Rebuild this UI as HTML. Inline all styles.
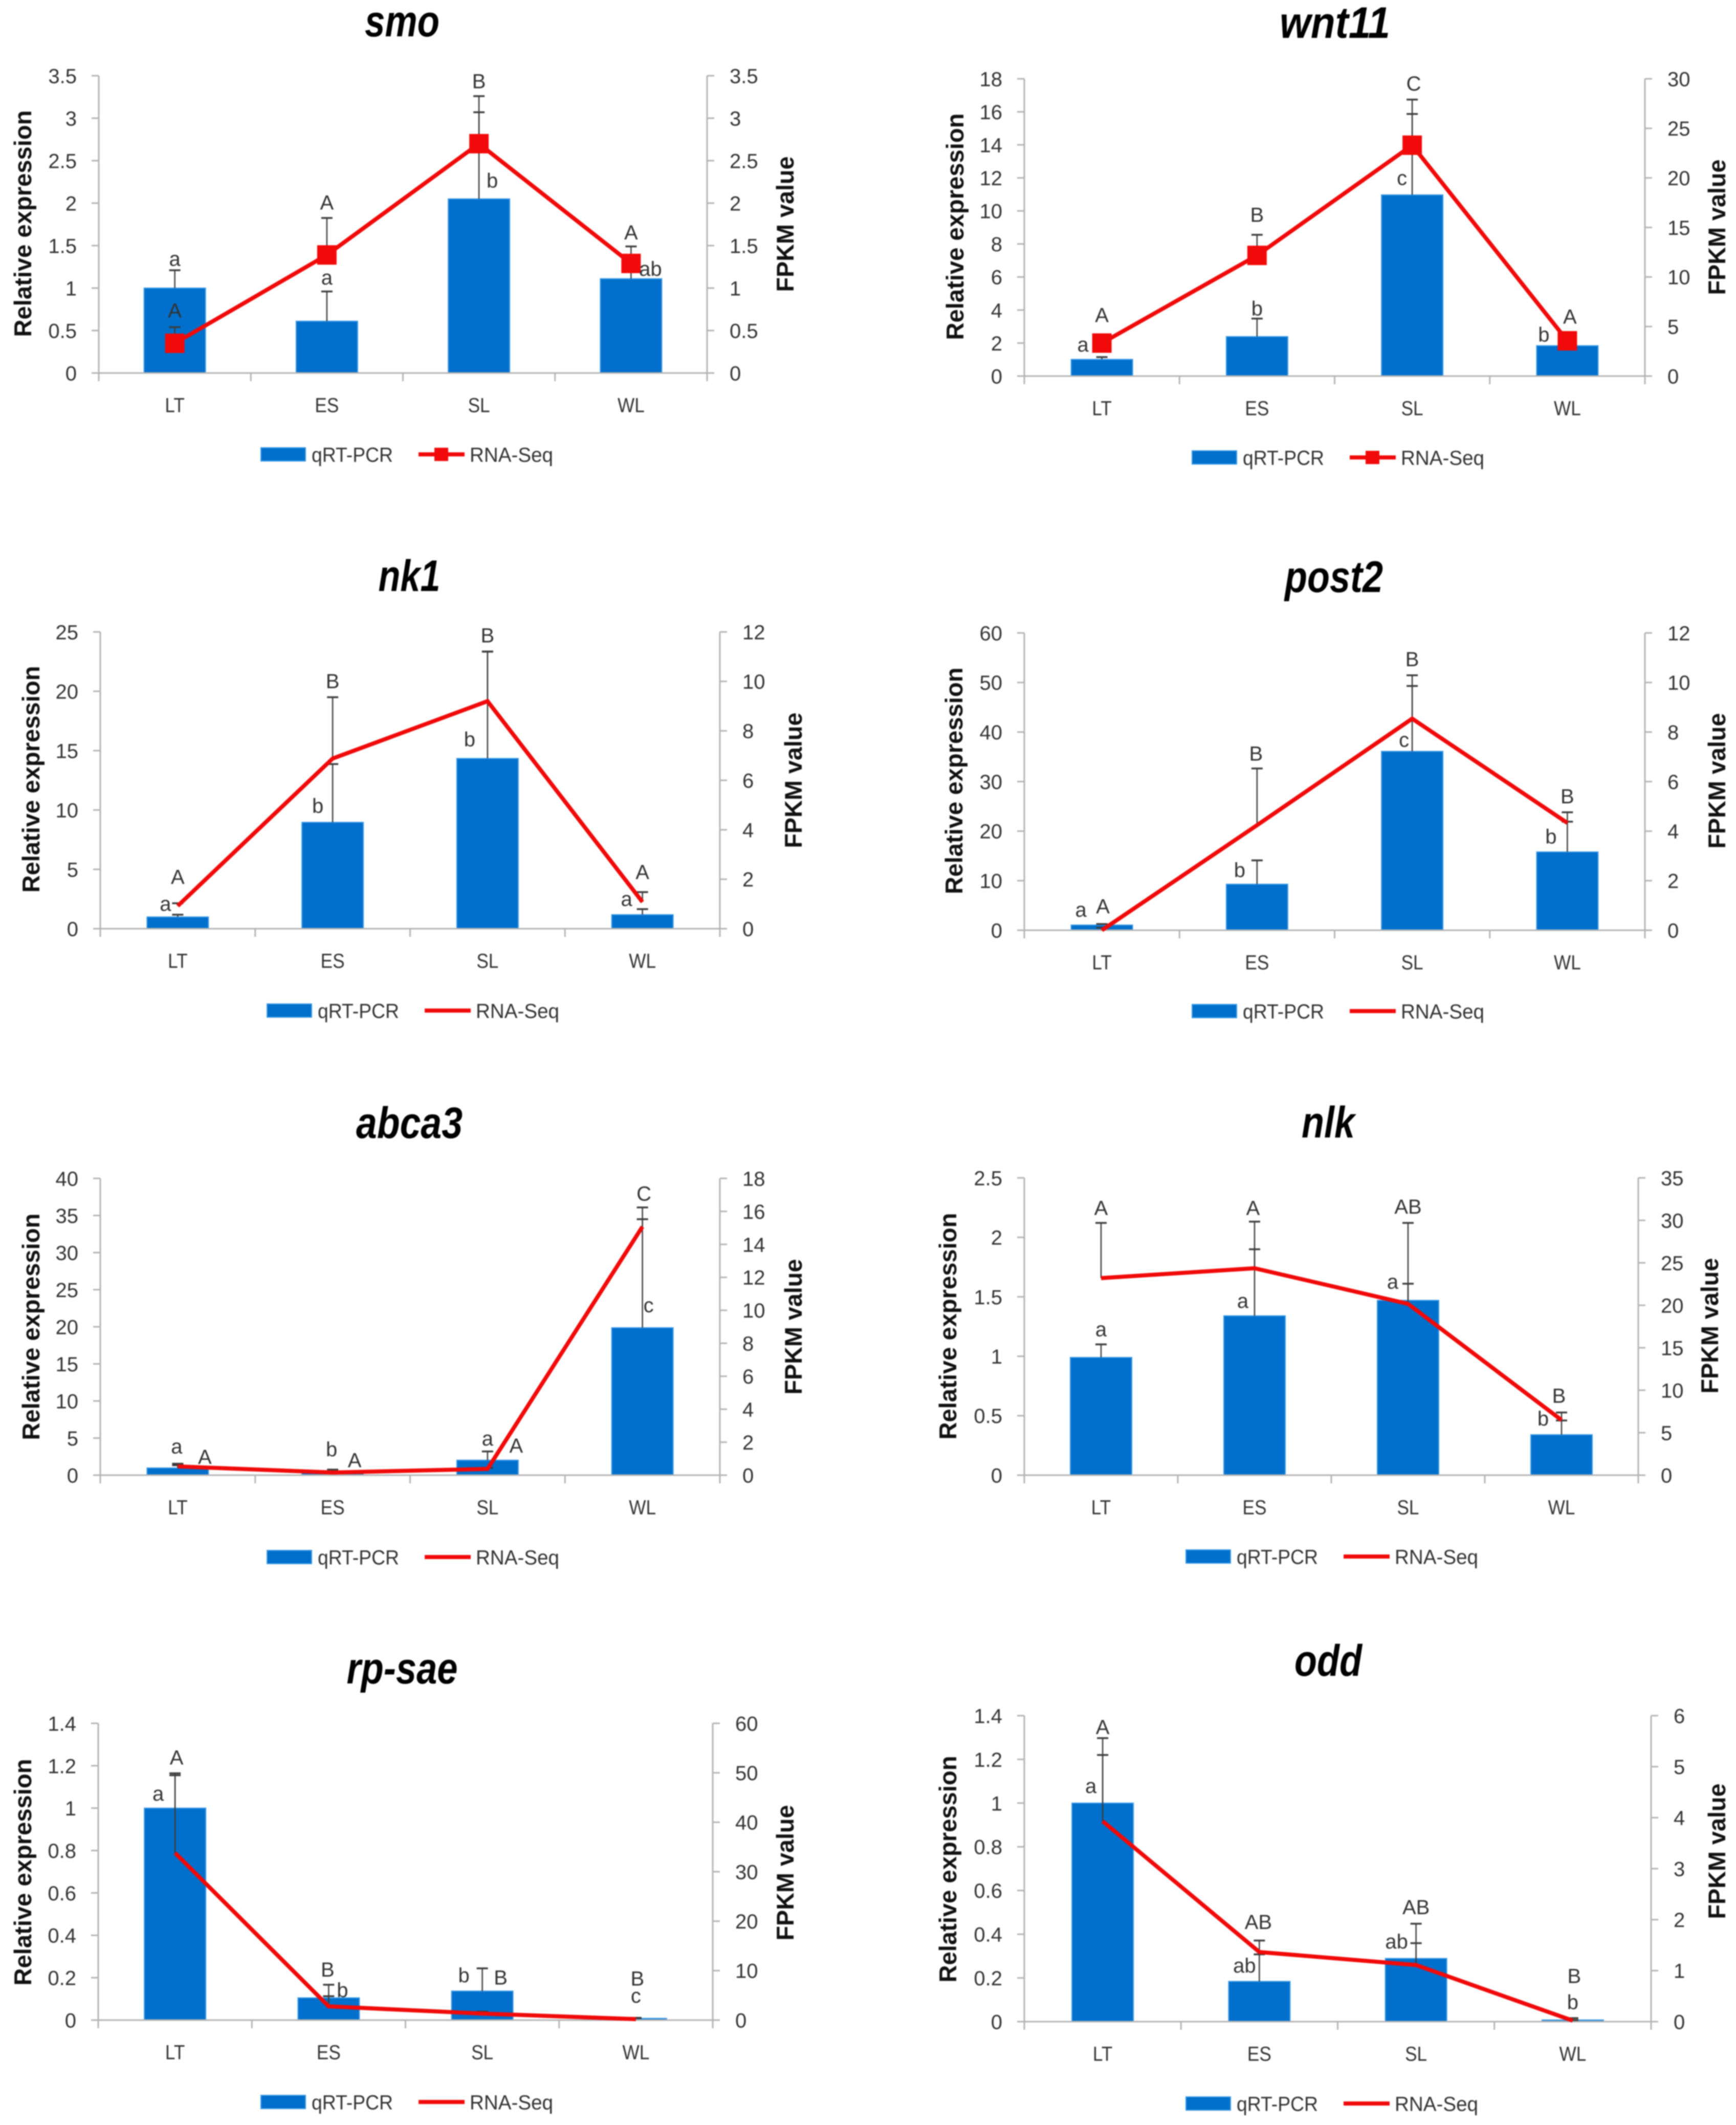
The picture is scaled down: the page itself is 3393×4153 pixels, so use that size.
<!DOCTYPE html>
<html lang="en">
<head>
<meta charset="utf-8">
<title>Relative expression and FPKM panels</title>
<style>
html,body{margin:0;padding:0;background:#fff;width:3393px;height:4153px;overflow:hidden}
svg{display:block;filter:blur(1px)}
text{font-family:"Liberation Sans",sans-serif;fill:#333}
</style>
</head>
<body>
<svg id="figure" xmlns="http://www.w3.org/2000/svg" width="3393" height="4153" viewBox="0 0 3393 4153"></svg>
<script>
const categories = ['LT', 'ES', 'SL', 'WL'];

// smo
const smoLeftTicks = ['0', '0.5', '1', '1.5', '2', '2.5', '3', '3.5'];
const smoRightTicks = ['0', '0.5', '1', '1.5', '2', '2.5', '3', '3.5'];
const smoBars = [1, 0.61, 2.05, 1.11];
const smoBarErr = [1.21, 0.96, 3.07, 1.3];
const smoLine = [0.35, 1.39, 2.7, 1.29];
const smoLineErr = [0.54, 1.825, 3.26, 1.49];
const smoLetters = [['a',0,1.35,0],['A',0,0.74,0],['A',1,2.01,0],['a',1,1.13,0],['B',2,3.44,0],['b',2,2.27,26],['A',3,1.66,0],['ab',3,1.23,38]];

// wnt11
const wntLeftTicks = ['0', '2', '4', '6', '8', '10', '12', '14', '16', '18'];
const wntRightTicks = ['0', '5', '10', '15', '20', '25', '30'];
const wntBars = [1.01, 2.39, 10.97, 1.84];
const wntBarErr = [1.15, 3.48, 15.87, 2.6];
const wntLine = [3.33, 12.18, 23.3, 3.56];
const wntLineErr = [3.5, 14.26, 27.9, 3.8];
const wntLetters = [['A',0,3.71,0],['a',0,1.94,-37],['B',1,9.78,0],['b',1,4.11,0],['C',2,17.74,3],['c',2,12.01,-20],['b',3,2.53,-46],['A',3,3.62,5]];

// nk1
const nk1LeftTicks = ['0', '5', '10', '15', '20', '25'];
const nk1RightTicks = ['0', '2', '4', '6', '8', '10', '12'];
const nk1Bars = [0.99, 8.96, 14.34, 1.18];
const nk1BarErr = [1.18, 13.87, 23.35, 1.65];
const nk1Line = [0.92, 6.88, 9.2, 1.08];
const nk1LineErr = [1.03, 9.36, 11.2, 1.48];
const nk1Letters = [['A',0,4.4,0],['a',0,2.14,-24],['B',1,20.88,0],['b',1,10.38,-29],['B',2,24.73,0],['b',2,15.99,-35],['A',3,4.81,0],['a',3,2.53,-31]];

// post2
const postLeftTicks = ['0', '10', '20', '30', '40', '50', '60'];
const postRightTicks = ['0', '2', '4', '6', '8', '10', '12'];
const postBars = [1.05, 9.29, 36.1, 15.8];
const postBarErr = [1.25, 14.1, 49.3, 21.9];
const postLine = [0, 4.24, 8.54, 4.33];
const postLineErr = [0.1, 6.53, 10.29, 4.76];
const postLetters = [['a',0,4.2,-41],['A',0,4.87,2],['B',1,35.7,-2],['b',1,12.25,-34],['B',2,54.8,0],['c',2,38.5,-16],['B',3,27.1,0],['b',3,19,-32]];

// abca3
const abcaLeftTicks = ['0', '5', '10', '15', '20', '25', '30', '35', '40'];
const abcaRightTicks = ['0', '2', '4', '6', '8', '10', '12', '14', '16', '18'];
const abcaBars = [0.97, 0.3, 2.02, 19.87];
const abcaBarErr = [1.54, 0.75, 3.2, 34.5];
const abcaLine = [0.53, 0.16, 0.38, 15.07];
const abcaLineErr = [0.6, 0.2, 0.45, 16.24];
const abcaLetters = [['a',0,3.91,-2],['A',0,2.5,53],['b',1,3.56,-2],['A',1,2.07,43],['a',2,5,0],['A',2,4.04,56],['C',3,37.98,3],['c',3,22.95,12]];

// nlk
const nlkLeftTicks = ['0', '0.5', '1', '1.5', '2', '2.5'];
const nlkRightTicks = ['0', '5', '10', '15', '20', '25', '30', '35'];
const nlkBars = [0.99, 1.34, 1.47, 0.34];
const nlkBarErr = [1.1, 1.9, 1.61, 0.46];
const nlkLine = [23.2, 24.36, 20.17, 6.49];
const nlkLineErr = [29.7, 29.85, 29.7, 7.38];
const nlkLetters = [['A',0,2.25,0],['a',0,1.23,0],['A',1,2.25,-3],['a',1,1.47,-23],['AB',2,2.26,0],['a',2,1.63,-30],['B',3,0.67,-5],['b',3,0.48,-36]];

// rp-sae
const rpLeftTicks = ['0', '0.2', '0.4', '0.6', '0.8', '1', '1.2', '1.4'];
const rpRightTicks = ['0', '10', '20', '30', '40', '50', '60'];
const rpBars = [1, 0.105, 0.137, 0.008];
const rpBarErr = [1.155, 0.167, 0.244, 0.011];
const rpLine = [33.8, 2.78, 1.32, 0.2];
const rpLineErr = [49.9, 4.83, 1.72, 0.4];
const rpLetters = [['A',0,1.24,3],['a',0,1.07,-33],['B',1,0.24,-2],['b',1,0.143,27],['b',2,0.213,-36],['B',2,0.202,36],['B',3,0.198,3],['c',3,0.117,0]];

// odd
const oddLeftTicks = ['0', '0.2', '0.4', '0.6', '0.8', '1', '1.2', '1.4'];
const oddRightTicks = ['0', '1', '2', '3', '4', '5', '6'];
const oddBars = [1, 0.184, 0.289, 0.0075];
const oddBarErr = [1.22, 0.308, 0.359, 0.016];
const oddLine = [3.93, 1.365, 1.11, 0.02];
const oddLineErr = [5.56, 1.59, 1.92, 0.03];
const oddLetters = [['A',0,1.35,0],['a',0,1.08,-23],['AB',1,0.458,-2],['ab',1,0.259,-29],['AB',2,0.525,0],['ab',2,0.368,-38],['B',3,0.211,3],['b',3,0.091,0]];

const panels = [
  {gene:'smo', left:smoLeftTicks, right:smoRightTicks, bars:smoBars, barErr:smoBarErr, line:smoLine, lineErr:smoLineErr, letters:smoLetters, markers:true,
   frame:{L:193,R:1382,top:148,bot:729}, titleBox:{x:786,y:71,w:146}, legendBox:{x:510,y:888}, yTitleBox:{x:45,y:437}, rTitleBox:{x:1534,y:438}},
  {gene:'wnt11', left:wntLeftTicks, right:wntRightTicks, bars:wntBars, barErr:wntBarErr, line:wntLine, lineErr:wntLineErr, letters:wntLetters, markers:true,
   frame:{L:2002,R:3215,top:154,bot:735}, titleBox:{x:2609,y:74,w:216}, legendBox:{x:2330,y:894}, yTitleBox:{x:1867,y:443}, rTitleBox:{x:3355,y:444}},
  {gene:'nk1', left:nk1LeftTicks, right:nk1RightTicks, bars:nk1Bars, barErr:nk1BarErr, line:nk1Line, lineErr:nk1LineErr, letters:nk1Letters, markers:false,
   frame:{L:196,R:1407,top:1235,bot:1815}, titleBox:{x:800,y:1155,w:121}, legendBox:{x:522,y:1975}, yTitleBox:{x:61,y:1523}, rTitleBox:{x:1550,y:1525}},
  {gene:'post2', left:postLeftTicks, right:postRightTicks, bars:postBars, barErr:postBarErr, line:postLine, lineErr:postLineErr, letters:postLetters, markers:false,
   frame:{L:2002,R:3215,top:1237,bot:1818}, titleBox:{x:2607,y:1157,w:192}, legendBox:{x:2330,y:1976}, yTitleBox:{x:1865,y:1526}, rTitleBox:{x:3355,y:1526}},
  {gene:'abca3', left:abcaLeftTicks, right:abcaRightTicks, bars:abcaBars, barErr:abcaBarErr, line:abcaLine, lineErr:abcaLineErr, letters:abcaLetters, markers:false,
   frame:{L:196,R:1407,top:2303,bot:2883}, titleBox:{x:800,y:2224,w:208}, legendBox:{x:522,y:3043}, yTitleBox:{x:61,y:2593}, rTitleBox:{x:1550,y:2593}},
  {gene:'nlk', left:nlkLeftTicks, right:nlkRightTicks, bars:nlkBars, barErr:nlkBarErr, line:nlkLine, lineErr:nlkLineErr, letters:nlkLetters, markers:false,
   frame:{L:2002,R:3202,top:2302,bot:2883}, titleBox:{x:2596,y:2223,w:104}, legendBox:{x:2318,y:3042}, yTitleBox:{x:1853,y:2592}, rTitleBox:{x:3341,y:2591}},
  {gene:'rp-sae', left:rpLeftTicks, right:rpRightTicks, bars:rpBars, barErr:rpBarErr, line:rpLine, lineErr:rpLineErr, letters:rpLetters, markers:false,
   frame:{L:192,R:1393,top:3368,bot:3948}, titleBox:{x:786,y:3290,w:217}, legendBox:{x:510,y:4108}, yTitleBox:{x:45,y:3659}, rTitleBox:{x:1534,y:3660}},
  {gene:'odd', left:oddLeftTicks, right:oddRightTicks, bars:oddBars, barErr:oddBarErr, line:oddLine, lineErr:oddLineErr, letters:oddLetters, markers:false,
   frame:{L:2002,R:3227,top:3353,bot:3951},  titleBox:{x:2596,y:3275,w:132}, legendBox:{x:2318,y:4111}, yTitleBox:{x:1853,y:3653}, rTitleBox:{x:3355,y:3618}}
];

const NS = 'http://www.w3.org/2000/svg';
const AXIS = '#b4b4b4', BLUE = '#0070cc', EDGE = '#3f9be6', RED = '#f00a0a', ERR = '#3c3c3c';
const TICK_SIZE = 40, BAR_W = 120, CAP = 22;
const figure = document.getElementById('figure');

function svgEl(parent, tag, attrs) {
  const el = document.createElementNS(NS, tag);
  for (const k in attrs) el.setAttribute(k, attrs[k]);
  parent.appendChild(el);
  return el;
}
function textEl(parent, str, attrs) {
  const el = svgEl(parent, 'text', attrs);
  el.textContent = str;
  return el;
}
function condense(el, factor) {
  const natural = el.getComputedTextLength();
  el.setAttribute('textLength', natural * factor);
  el.setAttribute('lengthAdjust', 'spacingAndGlyphs');
}

function drawPanel(p) {
  const f = p.frame;
  const g = svgEl(figure, 'g', {});
  
  

  const leftMax = Number(p.left[p.left.length - 1]);
  const rightMax = Number(p.right[p.right.length - 1]);
  const yLeft = v => f.bot - (v / leftMax) * (f.bot - f.top);
  const yRight = v => f.bot - (v / rightMax) * (f.bot - f.top);
  const band = (f.R - f.L) / categories.length;
  const xCat = i => f.L + band * (i + 0.5);

  // title
  const title = textEl(g, p.gene, {x:p.titleBox.x, y:p.titleBox.y, 'text-anchor':'middle', 'font-size':86, 'font-weight':'bold', 'font-style':'italic', textLength:p.titleBox.w, lengthAdjust:'spacingAndGlyphs', style:'fill:#000'});
  
  

  // bars
  p.bars.forEach((v, i) => {
    const bar = svgEl(g, 'rect', {x:xCat(i) - BAR_W / 2, y:yLeft(v), width:BAR_W, height:f.bot - yLeft(v), fill:BLUE, stroke:EDGE, 'stroke-width':2});
    
    
  });

  // axes
  const axes = svgEl(g, 'g', {stroke:AXIS, 'stroke-width':3, fill:'none'});
  
  
  svgEl(axes, 'line', {x1:f.L, x2:f.L, y1:f.top, y2:f.bot});
  svgEl(axes, 'line', {x1:f.R, x2:f.R, y1:f.top, y2:f.bot});
  svgEl(axes, 'line', {x1:f.L - 14, x2:f.R + 14, y1:f.bot, y2:f.bot});
  for (let i = 0; i <= categories.length; i++) {
    svgEl(axes, 'line', {x1:f.L + band * i, x2:f.L + band * i, y1:f.bot, y2:f.bot + 16});
  }

  // left ticks
  p.left.forEach(t => {
    const yy = yLeft(Number(t));
    svgEl(axes, 'line', {x1:f.L - 14, x2:f.L, y1:yy, y2:yy});
    const lab = textEl(g, t, {x:f.L - 43, y:yy, dy:'0.36em', 'text-anchor':'end', 'font-size':TICK_SIZE});
    
    
  });
  // right ticks
  p.right.forEach(t => {
    const yy = yRight(Number(t));
    svgEl(axes, 'line', {x1:f.R, x2:f.R + 14, y1:yy, y2:yy});
    const lab = textEl(g, t, {x:f.R + 44, y:yy, dy:'0.36em', 'text-anchor':'start', 'font-size':TICK_SIZE});
    
    
  });
  // category labels
  categories.forEach((c, i) => {
    const lab = textEl(g, c, {x:xCat(i), y:f.bot + 62, dy:'0.36em', 'text-anchor':'middle', 'font-size':TICK_SIZE});
    condense(lab, 0.88);
    
    
  });

  // axis titles
  const yt = textEl(g, 'Relative expression', {x:p.yTitleBox.x, y:p.yTitleBox.y, dy:'0.34em', 'text-anchor':'middle', 'font-size':47, 'font-weight':'bold', textLength:443, lengthAdjust:'spacingAndGlyphs', transform:'rotate(-90 ' + p.yTitleBox.x + ' ' + p.yTitleBox.y + ')', style:'fill:#111'});
  
  
  const rt = textEl(g, 'FPKM value', {x:p.rTitleBox.x, y:p.rTitleBox.y, dy:'0.36em', 'text-anchor':'middle', 'font-size':47, 'font-weight':'bold', textLength:265, lengthAdjust:'spacingAndGlyphs', transform:'rotate(-90 ' + p.rTitleBox.x + ' ' + p.rTitleBox.y + ')', style:'fill:#111'});
  
  

  // error bars
  function errorBar(x, y0, y1, name) {
    const eg = svgEl(g, 'g', {stroke:ERR, fill:'none'});
    
    
    svgEl(eg, 'line', {x1:x, x2:x, y1:y0, y2:y1, 'stroke-width':2.5});
    svgEl(eg, 'line', {x1:x - CAP / 2, x2:x + CAP / 2, y1:y1, y2:y1, 'stroke-width':3.5});
  }
  p.bars.forEach((v, i) => {
    errorBar(xCat(i), yLeft(v), yLeft(p.barErr[i]), 'bar-error-' + categories[i]);
  });
  p.line.forEach((v, i) => {
    errorBar(xCat(i), yRight(v), yRight(p.lineErr[i]), 'line-error-' + categories[i]);
  });

  // RNA-Seq line
  const pts = p.line.map((v, i) => xCat(i) + ',' + yRight(v)).join(' ');
  const poly = svgEl(g, 'polyline', {points:pts, fill:'none', stroke:RED, 'stroke-width':8, 'stroke-linejoin':'miter'});
  
  
  if (p.markers) {
    p.line.forEach((v, i) => {
      const m = svgEl(g, 'rect', {x:xCat(i) - 19, y:yRight(v) - 19, width:38, height:38, fill:RED});
      
      
    });
  }

  // significance letters
  p.letters.forEach(l => {
    const lab = textEl(g, l[0], {x:xCat(l[1]) + l[3], y:yLeft(l[2]), dy:'0.36em', 'text-anchor':'middle', 'font-size':TICK_SIZE});
    
    
  });

  // legend
  const lx = p.legendBox.x, ly = p.legendBox.y;
  const legend = svgEl(g, 'g', {});
  
  
  const swatch = svgEl(legend, 'rect', {x:lx, y:ly - 13, width:87, height:26, fill:BLUE, stroke:EDGE, 'stroke-width':2});
  
  
  const t1 = textEl(legend, 'qRT-PCR', {x:lx + 99, y:ly, dy:'0.36em', 'font-size':TICK_SIZE, textLength:159, lengthAdjust:'spacingAndGlyphs'});
  
  
  const ll = svgEl(legend, 'line', {x1:lx + 308, x2:lx + 398, y1:ly, y2:ly, stroke:RED, 'stroke-width':8});
  
  
  if (p.markers) {
    const lm = svgEl(legend, 'rect', {x:lx + 339, y:ly - 13, width:27, height:26, fill:RED});
    
    
  }
  const t2 = textEl(legend, 'RNA-Seq', {x:lx + 408, y:ly, dy:'0.36em', 'font-size':TICK_SIZE, textLength:163, lengthAdjust:'spacingAndGlyphs'});
  
  
}

panels.forEach(drawPanel);
</script>
</body>
</html>
